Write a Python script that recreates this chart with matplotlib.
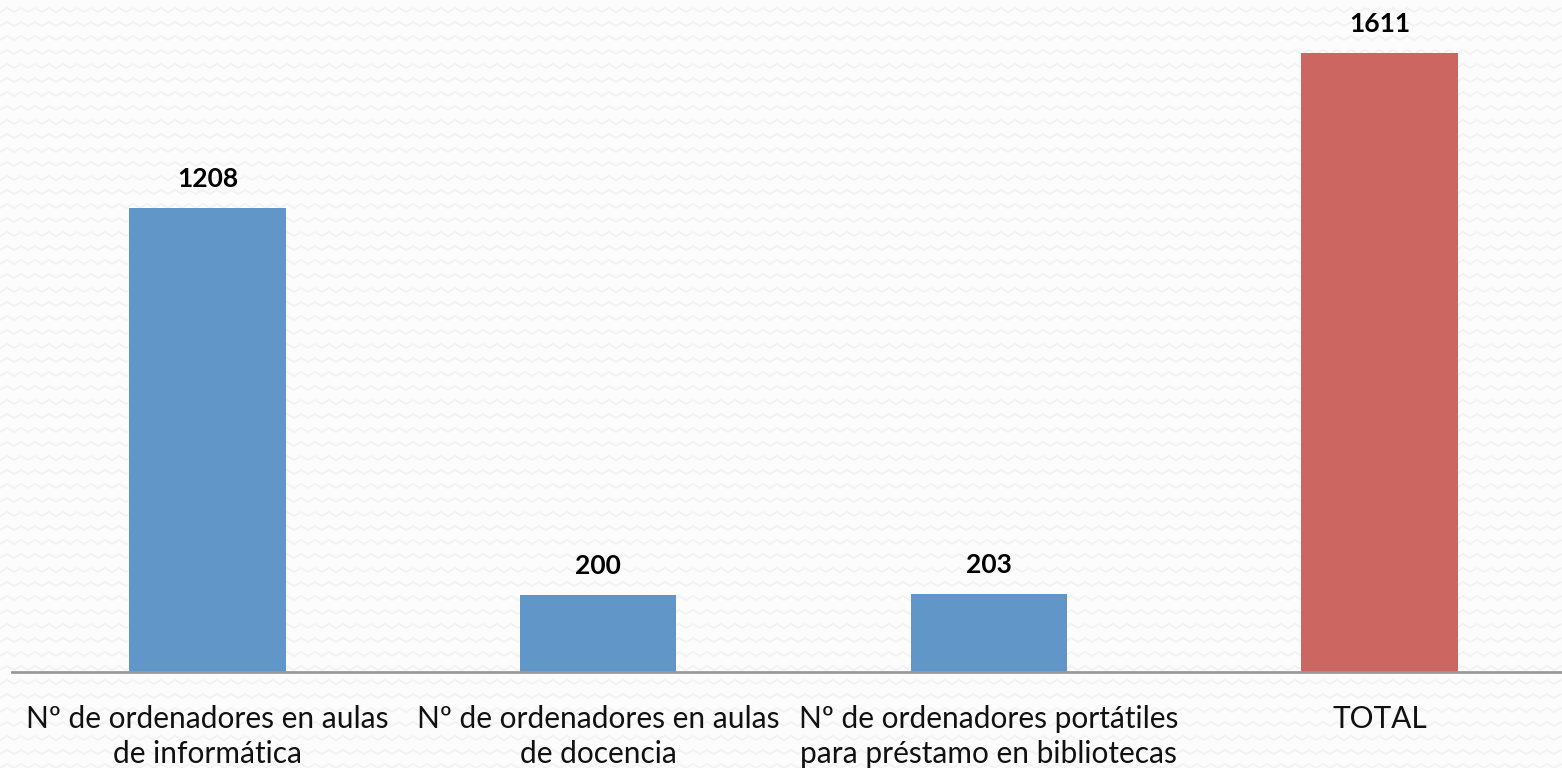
import matplotlib
matplotlib.use("Agg")
import matplotlib.pyplot as plt
import numpy as np

categories = ["Nº de ordenadores en aulas\nde informática",
              "Nº de ordenadores en aulas\nde docencia",
              "Nº de ordenadores portátiles\npara préstamo en bibliotecas",
              "TOTAL"]
values = [1208, 200, 203, 1611]
colors = ["#6096C8", "#6096C8", "#6096C8", "#CC6660"]

plt.rcParams['font.family'] = ['Lato', 'DejaVu Sans']

W, H = 1562, 768
fig = plt.figure(figsize=(W/100, H/100), dpi=100)
fig.patch.set_facecolor("#fcfcfc")

# background zigzag texture
bg = fig.add_axes([0, 0, 1, 1])
bg.set_xlim(0, W); bg.set_ylim(0, H); bg.axis("off")
xs = np.arange(0, W + 14, 7)
for y0 in np.arange(0, H, 14):
    ys = y0 + np.where((np.arange(len(xs)) % 2) == 0, 0, 4)
    bg.plot(xs, ys, color="#f2f2f2", lw=1.2, zorder=0)

ymax = 1750
px_per_unit = 0.3842
ax_h = ymax * px_per_unit
ax = fig.add_axes([12/W, 96/H, 1563/W, ax_h/H])
ax.patch.set_alpha(0)
x = np.arange(len(categories))
ax.bar(x, values, width=0.4, color=colors, zorder=2)
ax.set_xlim(-0.5, 3.5)
ax.set_ylim(0, ymax)
for s in ["top", "right", "left"]:
    ax.spines[s].set_visible(False)
ax.spines["bottom"].set_color("#9a9a9a")
ax.spines["bottom"].set_linewidth(2)
ax.set_yticks([])
ax.set_xticks(x)
ax.set_xticklabels(categories, fontsize=21.5, color="#111111", linespacing=1.3)
ax.tick_params(axis="x", length=0, pad=24)
for xi, v in zip(x, values):
    ax.annotate(str(v), (xi, v), xytext=(0, 12), textcoords="offset points",
                ha="center", va="bottom", fontsize=19, fontweight="bold")

fig.savefig("out.png", dpi=100, facecolor=fig.get_facecolor())
